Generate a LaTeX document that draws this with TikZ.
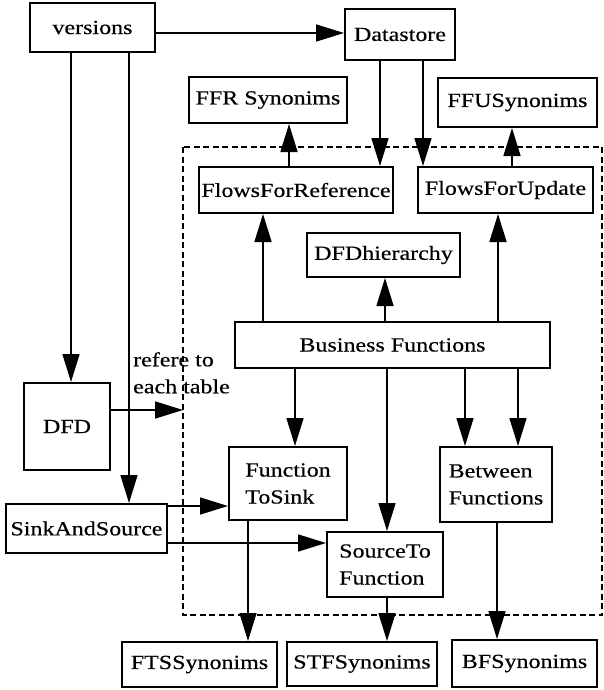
\documentclass[tikz,border=0pt]{standalone}
\usepackage{fontspec}
\setmainfont{Liberation Serif}[FakeStretch=1.2,FakeBold=0.4]
\usetikzlibrary{arrows.meta}

\begin{document}
\begin{tikzpicture}[x=1pt,y=-1pt,
        tbl/.style={draw,line width=2pt,inner sep=0pt,font=\fontsize{20}{27}\selectfont},
        twoline/.style={tbl,align=left},
        link/.style={line width=1.6pt,-{Triangle[length=28pt,width=17pt]}},
        frame/.style={line width=1.6pt,dash pattern=on 6pt off 3.5pt}]
    \useasboundingbox (0,0) rectangle (603,690);

    % tables outside the frame
    \node[tbl,minimum width=125pt,minimum height=49pt] (versions) at (92.5,27.5) {versions};
    \node[tbl,minimum width=110pt,minimum height=51pt] (datastore) at (400,34.5) {Datastore};
    \node[tbl,minimum width=158pt,minimum height=46pt] (ffrsyn) at (268,100) {FFR Synonims};
    \node[tbl,minimum width=159pt,minimum height=49pt] (ffusyn) at (517.5,102.5) {FFUSynonims};
    \node[tbl,minimum width=86pt,minimum height=87pt] (dfd) at (67,426.5) {DFD};
    \node[tbl,minimum width=161pt,minimum height=49pt] (sinksrc) at (86.5,528.5) {SinkAndSource};
    \node[tbl,minimum width=155pt,minimum height=45pt] (ftssyn) at (199.5,664.5) {FTSSynonims};
    \node[tbl,minimum width=150pt,minimum height=44pt] (stfsyn) at (362,664) {STFSynonims};
    \node[tbl,minimum width=145pt,minimum height=47pt] (bfsyn) at (524.5,663.5) {BFSynonims};

    % tables inside the frame
    \node[tbl,minimum width=194pt,minimum height=46pt] (ffr) at (296,190) {FlowsForReference};
    \node[tbl,minimum width=175pt,minimum height=46pt] (ffu) at (505.5,190) {FlowsForUpdate};
    \node[tbl,minimum width=153pt,minimum height=44pt] (hier) at (383.5,255) {DFDhierarchy};
    \node[tbl,minimum width=315pt,minimum height=46pt] (busfn) at (392.5,345) {Business Functions};
    \node[twoline,minimum width=118pt,minimum height=73pt] (fnsink) at (288,483.5) {Function\\ToSink};
    \node[twoline,minimum width=112pt,minimum height=75pt] (betfn) at (496,484.5) {Between\\Functions};
    \node[twoline,minimum width=116pt,minimum height=65pt] (srcfn) at (385,564.5) {SourceTo\\Function};

    \node[font=\fontsize{20}{27}\selectfont,align=left,inner sep=0pt,anchor=north west] (note) at (133,352) {refere to\\each table};

    % dashed frame
    \coordinate (frameNW) at (183,147);
    \coordinate (frameSE) at (602,615);
    \draw[frame] (frameNW) rectangle (frameSE);

    % versions
    \draw[link] (versions.south -| 71,0) -- (dfd.north -| 71,0);
    \draw[link] (versions.south -| 129,0) -- (sinksrc.north -| 129,0);
    \draw[link] (versions.east |- 0,33) -- (datastore.west |- 0,33);

    % datastore
    \draw[link] (datastore.south -| 380,0) -- (ffr.north -| 380,0);
    \draw[link] (datastore.south -| 423,0) -- (ffu.north -| 423,0);
    \draw[link] (ffr.north -| 289,0) -- (ffrsyn.south -| 289,0);
    \draw[link] (ffu.north -| 512,0) -- (ffusyn.south -| 512,0);

    % business functions
    \draw[link] (busfn.north -| 263,0) -- (ffr.south -| 263,0);
    \draw[link] (busfn.north -| 385,0) -- (hier.south -| 385,0);
    \draw[link] (busfn.north -| 498,0) -- (ffu.south -| 498,0);
    \draw[link] (busfn.south -| 295,0) -- (fnsink.north -| 295,0);
    \draw[link] (busfn.south -| 387,0) -- (srcfn.north -| 387,0);
    \draw[link] (busfn.south -| 465,0) -- (betfn.north -| 465,0);
    \draw[link] (busfn.south -| 518,0) -- (betfn.north -| 518,0);

    % dfd and sources
    \draw[link] (dfd.east |- 0,410) -- (frameNW |- 0,410);
    \draw[link] (sinksrc.east |- 0,506) -- (fnsink.west |- 0,506);
    \draw[link] (sinksrc.east |- 0,543) -- (srcfn.west |- 0,543);

    % synonyms
    \draw[link] (fnsink.south -| 248,0) -- (ftssyn.north -| 248,0);
    \draw[link] (srcfn.south -| 387,0) -- (stfsyn.north -| 387,0);
    \draw[link] (betfn.south -| 497,0) -- (bfsyn.north -| 497,0);
\end{tikzpicture}
\end{document}
